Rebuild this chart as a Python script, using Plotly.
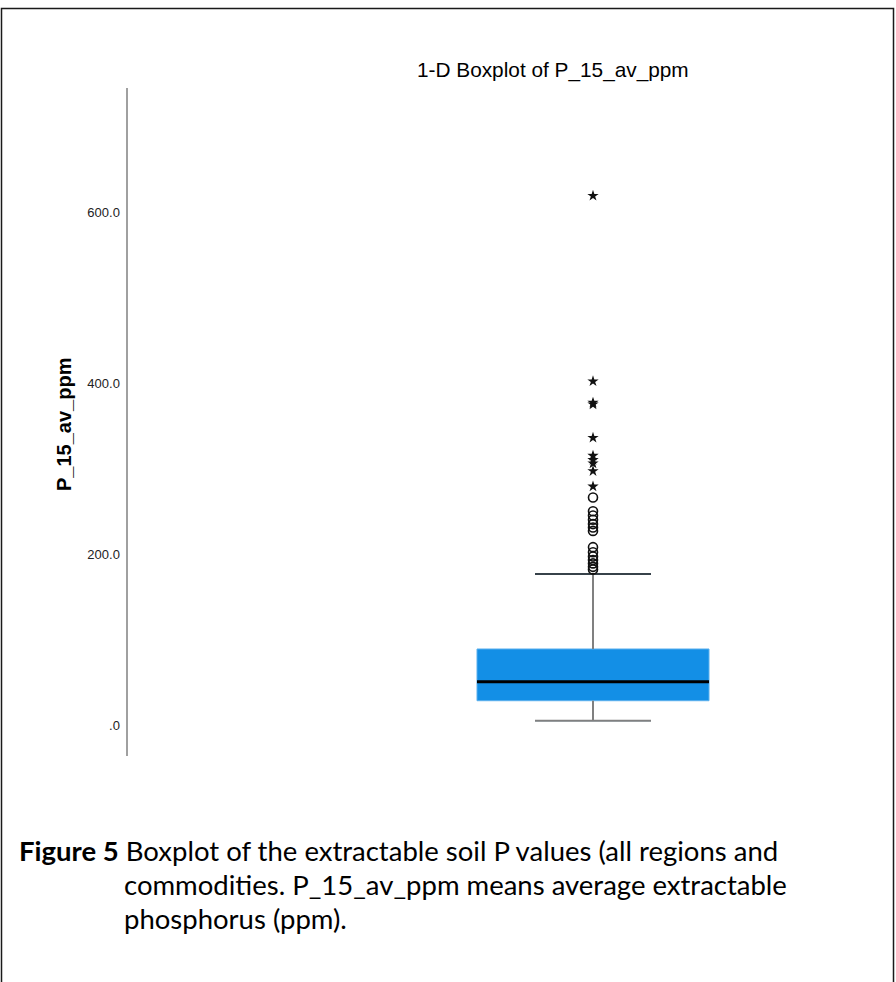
import plotly.graph_objects as go

# ---------------- data ----------------
q1_value = 28.4
median_value = 50.5
q3_value = 88.9
lower_whisker = 5.0
upper_whisker = 176.6
mild_outliers = [182, 185, 189, 193, 197, 202, 208, 227, 231, 235, 240, 245, 250, 266]
extreme_outliers = [279, 297, 306, 310, 315, 336, 375, 377, 402, 619]
tick_values = [0, 200, 400, 600]
tick_labels = [".0", "200.0", "400.0", "600.0"]
chart_title = "1-D Boxplot of P_15_av_ppm"
y_title = "P_15_av_ppm"
caption_lines = [
    "<b>Figure 5</b> Boxplot of the extractable soil P values (all regions and",
    "commodities. P_15_av_ppm means average extractable",
    "phosphorus (ppm).",
]

# ---------------- geometry ----------------
W, H = 896, 982
axis_x_px = 127.5
plot_top_px, plot_bottom_px = 88, 756
zero_px, px_per_unit = 725, 0.855
box_center_px, box_width_px = 593, 232

y_top = (zero_px - plot_top_px) / px_per_unit
y_bottom = (zero_px - plot_bottom_px) / px_per_unit
x_left = -(box_center_px - axis_x_px) / box_width_px
x_right = (W - box_center_px) / box_width_px

fig = go.Figure()

fig.add_trace(go.Box(
    x=[0], q1=[q1_value], median=[median_value], q3=[q3_value],
    lowerfence=[lower_whisker], upperfence=[upper_whisker],
    width=1, whiskerwidth=0.5, boxpoints=False,
    fillcolor="#138FE6", line=dict(color="#5AB0EE", width=1),
    showlegend=False, hoverinfo="skip",
))

grey = "#808080"
fig.add_trace(go.Scatter(x=[0, 0], y=[q3_value, upper_whisker], mode="lines",
                         line=dict(color=grey, width=2), showlegend=False, hoverinfo="skip"))
fig.add_trace(go.Scatter(x=[0, 0], y=[lower_whisker, q1_value], mode="lines",
                         line=dict(color=grey, width=2), showlegend=False, hoverinfo="skip"))
fig.add_trace(go.Scatter(x=[-0.25, 0.25], y=[upper_whisker, upper_whisker], mode="lines",
                         line=dict(color="#111111", width=1.6), showlegend=False, hoverinfo="skip"))
fig.add_trace(go.Scatter(x=[-0.25, 0.25], y=[lower_whisker, lower_whisker], mode="lines",
                         line=dict(color=grey, width=2.2), showlegend=False, hoverinfo="skip"))
fig.add_trace(go.Scatter(x=[-0.5, 0.5], y=[median_value, median_value], mode="lines",
                         line=dict(color="#000000", width=3), showlegend=False, hoverinfo="skip"))

fig.add_trace(go.Scatter(
    x=[0] * len(mild_outliers), y=mild_outliers, mode="markers",
    marker=dict(symbol="circle-open", size=9, color="#111111", line=dict(width=1.6, color="#111111")),
    showlegend=False, hoverinfo="y",
))
fig.add_trace(go.Scatter(
    x=[0] * len(extreme_outliers), y=extreme_outliers, mode="markers",
    marker=dict(symbol="star", size=8.5, color="#111111"),
    showlegend=False, hoverinfo="y",
))

fig.update_layout(
    width=W, height=H,
    margin=dict(l=0, r=0, t=0, b=0),
    paper_bgcolor="white", plot_bgcolor="white",
    xaxis=dict(domain=[axis_x_px / W, 1], range=[x_left, x_right],
               visible=False, fixedrange=True),
    yaxis=dict(domain=[(H - plot_bottom_px) / H, (H - plot_top_px) / H],
               range=[y_bottom, y_top],
               showline=True, linecolor="#a0a0a0", linewidth=2,
               ticks="", showgrid=False, zeroline=False,
               tickvals=tick_values, ticktext=tick_labels,
               tickfont=dict(family="Liberation Sans", size=13, color="#222222"),
               ticklabelstandoff=3),
    font=dict(family="Liberation Sans"),
)

annotations = [
    dict(text=chart_title, x=553 / W, y=1 - 70 / H, xref="paper", yref="paper",
         xanchor="center", yanchor="middle", showarrow=False,
         font=dict(family="Liberation Sans", size=20.8, color="#000000")),
    dict(text="<b>" + y_title + "</b>", x=64 / W, y=1 - 425 / H, xref="paper", yref="paper",
         xanchor="center", yanchor="middle", showarrow=False, textangle=-90,
         font=dict(family="Liberation Sans", size=20, color="#000000")),
]
caption_x = [17, 122, 122]
caption_y = [850, 884, 918]
for txt, cx, cy in zip(caption_lines, caption_x, caption_y):
    annotations.append(dict(text=txt, x=cx / W, y=1 - cy / H, xref="paper", yref="paper",
                            xanchor="left", yanchor="middle", showarrow=False,
                            font=dict(family="Lato", size=27.5, color="#000000")))
fig.update_layout(annotations=annotations)

fig.add_shape(type="rect", xref="paper", yref="paper",
              x0=1.5 / W, x1=893.5 / W, y0=-0.05, y1=1 - 8.5 / H,
              line=dict(color="#1a1a1a", width=1.5), fillcolor="rgba(0,0,0,0)", layer="above")

fig.write_html("out.html", config={"displayModeBar": False},
               post_script="document.body.style.margin='0px';")
